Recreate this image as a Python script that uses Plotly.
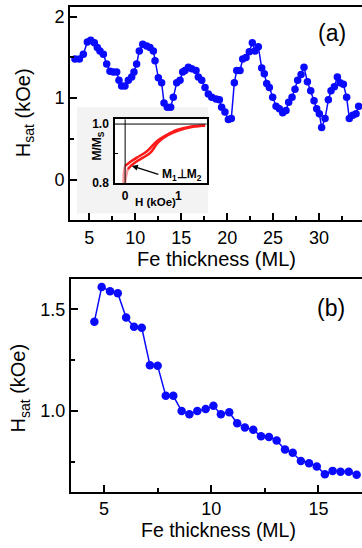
import plotly.graph_objects as go

# ---------------- data ----------------
# panel (a): Hsat vs Fe thickness
x_a = [3.44, 3.92, 4.35, 4.79, 5.15, 5.55, 5.87, 6.16, 6.53, 6.89, 7.25, 7.61, 7.98, 8.23, 8.52, 8.88,
       9.25, 9.61, 9.86, 10.15, 10.44, 10.81, 11.24, 11.60, 11.97, 12.15, 12.51, 12.87, 13.13, 13.49,
       13.85, 14.14, 14.51, 14.87, 15.16, 15.41, 15.78, 16.14, 16.61, 16.86, 17.23, 17.59, 17.95, 18.32,
       18.79, 19.15, 19.40, 19.76, 20.13, 20.45, 20.78, 21.04, 21.40, 21.69, 22.05, 22.41, 22.74, 23.03,
       23.39, 23.76, 24.04, 24.30, 24.59, 24.95, 25.32, 25.68, 26.04, 26.40, 26.69, 27.06, 27.38, 27.67,
       28.04, 28.36, 28.73, 29.09, 29.45, 29.74, 30.03, 30.28, 30.65, 31.01, 31.30, 31.66, 31.99, 32.28,
       32.64, 33.00, 33.29, 33.66, 34.02, 34.31]
h_a = [1.48, 1.48, 1.54, 1.69, 1.71, 1.68, 1.62, 1.58, 1.54, 1.42, 1.33, 1.32, 1.32, 1.22, 1.15, 1.15,
       1.22, 1.26, 1.32, 1.42, 1.58, 1.66, 1.64, 1.62, 1.58, 1.46, 1.25, 1.19, 0.94, 0.89,
       0.89, 1.01, 1.19, 1.22, 1.32, 1.34, 1.38, 1.36, 1.34, 1.26, 1.22, 1.13, 1.05, 1.01,
       0.99, 0.98, 0.89, 0.83, 0.74, 0.75, 1.19, 1.34, 1.34, 1.48, 1.50, 1.57, 1.68, 1.58,
       1.63, 1.37, 1.30, 1.18, 1.13, 1.01, 0.90, 0.87, 0.82, 0.85, 0.95, 1.01, 1.11, 1.22,
       1.29, 1.38, 1.20, 1.09, 0.97, 0.87, 0.81, 0.64, 0.75, 0.98, 1.09, 1.14, 1.26, 1.19,
       1.17, 1.01, 0.75, 0.79, 0.81, 0.90]

# panel (b)
x_b = [4.55, 4.89, 5.28, 5.64, 6.03, 6.40, 6.76, 7.14, 7.50, 7.88, 8.23, 8.62, 8.98, 9.35, 9.74, 10.10,
       10.45, 10.84, 11.21, 11.57, 11.96, 12.32, 12.69, 13.05, 13.44, 13.80, 14.18, 14.56, 14.92, 15.30,
       15.66, 16.03, 16.41, 16.78]
h_b = [1.44, 1.61, 1.59, 1.58, 1.46, 1.415, 1.41, 1.226, 1.223, 1.075, 1.075, 1.00, 0.985, 1.00, 1.01, 1.026,
       0.985, 0.994, 0.94, 0.919, 0.908, 0.876, 0.873, 0.855, 0.811, 0.795, 0.755, 0.744, 0.728, 0.69,
       0.706, 0.702, 0.702, 0.687]

# inset: M/Ms vs H (kOe), two branches
H_up = [0.0, 0.1, 0.22, 0.41, 0.59, 0.78, 0.97, 1.22, 1.50]
M_up = [0.858, 0.872, 0.886, 0.908, 0.941, 0.963, 0.980, 0.991, 0.994]
H_dn = [0.05, 0.12, 0.22, 0.47, 0.62, 0.80, 1.00, 1.25, 1.50]
M_dn = [0.847, 0.860, 0.874, 0.902, 0.938, 0.962, 0.978, 0.990, 0.995]
H_low1 = [-0.03, -0.02, 0.0]
M_low1 = [0.80, 0.84, 0.858]
H_low2 = [0.0, 0.02, 0.05]
M_low2 = [0.80, 0.825, 0.847]

xticks_a = [5, 10, 15, 20, 25, 30]
yticks_a = [0, 1, 2]
xticks_b = [5, 10, 15]
yticks_b = [1.0, 1.5]

# ---------------- layout helpers ----------------
W, H = 362, 548
def px(x):
    return x / W
def py(y):
    return 1 - y / H

FONT = "Liberation Sans, Arial, sans-serif"
BLUE = "#0a0aff"

fig = go.Figure()
fig.add_trace(go.Scatter(x=x_a, y=h_a, mode="lines+markers", xaxis="x", yaxis="y",
                         line=dict(color=BLUE, width=1.5), marker=dict(color=BLUE, size=7.5),
                         showlegend=False))
fig.add_trace(go.Scatter(x=x_b, y=h_b, mode="lines+markers", xaxis="x2", yaxis="y2",
                         line=dict(color=BLUE, width=1.5), marker=dict(color=BLUE, size=8.5),
                         showlegend=False))
for hx, my, col in [(H_low1, M_low1, "#ff9a9a"), (H_low2, M_low2, "#ff9a9a"),
                    (H_up, M_up, "#ff1a1a"), (H_dn, M_dn, "#ff1a1a")]:
    fig.add_trace(go.Scatter(x=hx, y=my, mode="lines", xaxis="x3", yaxis="y3",
                             line=dict(color=col, width=2.5, shape="spline"), showlegend=False))

axis_common = dict(showline=True, linewidth=2, linecolor="black", mirror=True,
                   showgrid=False, zeroline=False, ticks="inside", ticklen=7, tickwidth=2,
                   tickcolor="black", tickfont=dict(family=FONT, size=18, color="black"))

fig.update_layout(
    width=W, height=H, margin=dict(l=0, r=0, t=0, b=0),
    paper_bgcolor="white", plot_bgcolor="rgba(0,0,0,0)",
    xaxis=dict(domain=[px(70), 1], range=[2.90, 34.67], anchor="y", tickvals=xticks_a,
               minor=dict(dtick=2.5, tick0=0, ticks="inside", ticklen=4, tickwidth=2, tickcolor="black"),
               **axis_common),
    yaxis=dict(domain=[py(222), py(5)], range=[-0.498, 2.119], anchor="x", tickvals=yticks_a,
               minor=dict(dtick=0.5, tick0=0, ticks="inside", ticklen=4, tickwidth=2, tickcolor="black"),
               **{**axis_common, "mirror": False}),
    xaxis2=dict(domain=[px(71), 1], range=[3.46, 17.03], anchor="y2", tickvals=xticks_b,
                minor=dict(dtick=2.5, tick0=0, ticks="inside", ticklen=4, tickwidth=2, tickcolor="black"),
                **axis_common),
    yaxis2=dict(domain=[py(498), py(282)], range=[0.603, 1.648], anchor="x2", tickvals=yticks_b,
                tickformat=".1f",
                minor=dict(dtick=0.25, tick0=0, ticks="inside", ticklen=4, tickwidth=2, tickcolor="black"),
                **{**axis_common, "mirror": False}),
    xaxis3=dict(domain=[px(115), px(206.7)], range=[-0.19, 1.53], anchor="y3",
                tickvals=[0, 1], ticktext=["<b>0</b>", "<b>1</b>"],
                showline=True, linewidth=1.5, linecolor="black", mirror=True, showgrid=False,
                zeroline=False, ticks="", ticklabelstandoff=1,
                tickfont=dict(family=FONT, size=12, color="black")),
    yaxis3=dict(domain=[py(184), py(119.3)], range=[0.8, 1.016], anchor="x3",
                tickvals=[0.8, 1.0], ticktext=["<b>0.8</b>", "<b>1.0</b>"],
                showline=True, linewidth=1.5, linecolor="black", mirror=True, showgrid=False,
                zeroline=False, ticks="", ticklabelstandoff=2,
                minor=dict(tickvals=[0.9], ticks="inside", ticklen=3, tickwidth=1, tickcolor="black"),
                tickfont=dict(family=FONT, size=12, color="black")),
)

# inset background (light grey picture area) and white plot interior
fig.add_shape(type="rect", xref="paper", yref="paper", x0=px(77), x1=px(208), y0=py(215), y1=py(107),
              fillcolor="#f3f3f3", line=dict(width=0), layer="below")
fig.add_shape(type="rect", xref="paper", yref="paper", x0=px(115), x1=px(206.7), y0=py(184), y1=py(119.3),
              fillcolor="white", line=dict(width=0), layer="below")
# inset reference lines H=0 and M/Ms=1
fig.add_shape(type="line", xref="x3", yref="y3 domain", x0=0, x1=0, y0=0, y1=1,
              line=dict(color="black", width=1))
fig.add_shape(type="line", xref="x3 domain", yref="y3", x0=0, x1=1, y0=1.0, y1=1.0,
              line=dict(color="black", width=1))

ann = []
def text(x, y, t, size, angle=0, bold=False):
    ann.append(dict(x=px(x), y=py(y), xref="paper", yref="paper", text=(f"<b>{t}</b>" if bold else t),
                    showarrow=False, textangle=angle, xanchor="center", yanchor="middle",
                    font=dict(family=FONT, size=size, color="black")))

text(216, 261, "Fe thickness (ML)", 20)
text(218, 537, "Fe thickness (ML)", 19.5)
text(24, 113, "H<sub>sat</sub> (kOe)", 20, angle=-90)
text(20, 393, "H<sub>sat</sub> (kOe)", 20, angle=-90)
text(332, 32, "(a)", 23)
text(331, 311, "(b)", 23)
text(98, 146, "M/M<sub>S</sub>", 12, angle=-90, bold=True)
text(155, 203.5, "H (kOe)", 11.5, bold=True)
text(182, 176, "M<sub>1</sub>\u22a5M<sub>2</sub>", 12, bold=True)
# arrow (from the M1⊥M2 label towards the curve kink)
ann.append(dict(x=0.126, y=0.858, xref="x3", yref="y3", ax=28, ay=9, axref="pixel", ayref="pixel",
                text="", showarrow=True, arrowhead=2, arrowsize=1, arrowwidth=1.2, arrowcolor="black"))
fig.update_layout(annotations=ann)

fig.write_html("out.html", config={"displayModeBar": False},
               post_script="document.body.style.margin='0px';document.body.style.overflow='hidden';")
